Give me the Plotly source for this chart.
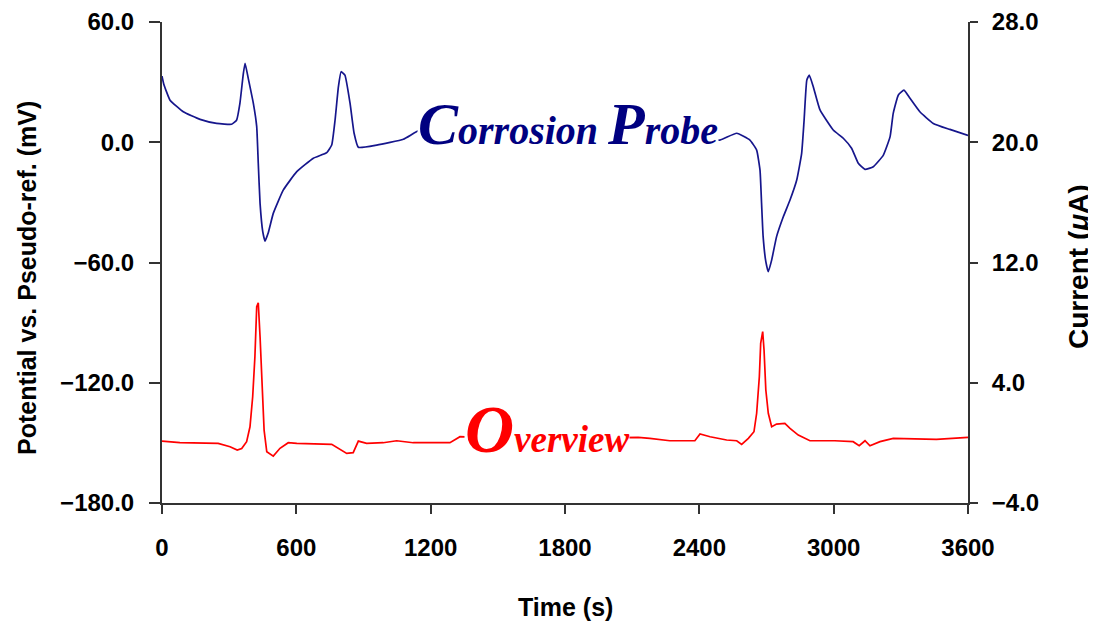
import plotly.graph_objects as go

# Time axis ticks
time_ticks = [0, 600, 1200, 1800, 2400, 3000, 3600]
pot_ticks = [-180, -120, -60, 0, 60]
cur_ticks = [-4, 4, 12, 20, 28]

# Potential (mV) vs time (s) - Corrosion probe
pot_time = [0, 8, 36, 95, 170, 244, 311, 333, 348, 363, 371, 385, 408, 423, 430, 438, 450, 460,
            475, 497, 542, 602, 676, 736, 758, 773, 788, 800, 817, 840, 858, 877, 959, 1078,
            1152, 1300, 1500, 1800, 2100, 2300, 2420, 2492, 2567, 2626, 2656, 2671, 2678, 2685,
            2697, 2708, 2723, 2745, 2775, 2805, 2835, 2857, 2868, 2880, 2891, 2909, 2939, 2998,
            3043, 3080, 3110, 3140, 3177, 3222, 3252, 3266, 3289, 3314, 3341, 3385, 3445, 3519, 3600]
pot_mv = [33, 29, 21, 15.2, 11.4, 9.4, 9, 11, 19.4, 34, 39.4, 32, 19.4, 7.8, -10.5, -30.5, -44.6, -49.3,
          -45, -35.5, -23.8, -14.7, -8, -5.2, -1.4, 11.1, 27.7, 35.2, 33.5, 19.4, 4.5, -2.5, -1.4, 1.5,
          6.1, 7, 6, 5, 4, 2, 1.5, 1.1, 4.5, 1.1, -3.9, -13.9, -30.5, -47.1,
          -59.6, -64.6, -58.8, -47.1, -37.2, -28.8, -18.8, -5.5, 11.1, 31, 33.5, 27.7, 16.1, 6.1,
          2, -3, -10.5, -13.5, -12.2, -6.4, 2.8, 14.4, 23.6, 26, 21.9, 15.2, 9.4, 6.4, 3.4]

# Current (uA) vs time (s) - Overview
cur_time = [0, 80, 251, 304, 336, 356, 378, 393, 405, 415, 423, 430, 438, 445, 456, 468, 497, 527,
            564, 602, 758, 825, 854, 877, 914, 988, 1048, 1122, 1286, 1331, 1500, 1800, 2000,
            2127, 2179, 2268, 2380, 2403, 2448, 2522, 2567, 2589, 2619, 2644, 2656, 2668, 2674,
            2683, 2689, 2697, 2708, 2723, 2745, 2782, 2805, 2842, 2894, 3005, 3087, 3114, 3140,
            3162, 3207, 3266, 3459, 3600]
cur_ua = [0.12, 0.01, -0.03, -0.26, -0.48, -0.37, 0.08, 1.07, 3.07, 5.73, 9.06, 9.32, 7.06, 4.18, 0.85, -0.59, -0.88, -0.36,
          0.01, -0.03, -0.1, -0.7, -0.65, 0.12, -0.03, 0.01, 0.14, 0.01, 0.01, 0.41, 0.3, 0.3, 0.35,
          0.37, 0.3, 0.14, 0.14, 0.59, 0.41, 0.19, 0.14, -0.1, 0.3, 0.74, 1.97, 4.4, 6.62,
          7.4, 6.18, 3.52, 1.97, 1.07, 1.25, 1.3, 0.97, 0.52, 0.14, 0.14, 0.08, -0.19, 0.14,
          -0.19, 0.08, 0.3, 0.23, 0.37]

label_probe = "<span style='font-size:60px'>C</span>orrosion <span style='font-size:60px'>P</span>robe"
label_overview = "<span style='font-size:68px'>O</span>verview"

tick_font = dict(family="Liberation Sans, Arial, sans-serif", size=24, color="black", weight="bold")
title_font = dict(family="Liberation Sans, Arial, sans-serif", size=25, color="black", weight="bold")
axis_col = "#333333"

# The page body has an 8 px margin, so the figure is drawn 8 px smaller
W, H = 1088, 614
L, R, T, B = 154, 128, 14, 119
PW, PH = W - L - R, H - T - B

fig = go.Figure()
fig.add_trace(go.Scatter(x=pot_time, y=pot_mv, mode="lines",
                         line=dict(color="#16168c", width=1.7, shape="spline", smoothing=0.4),
                         name="Potential", yaxis="y", showlegend=False))
fig.add_trace(go.Scatter(x=cur_time, y=cur_ua, mode="lines",
                         line=dict(color="#ff0000", width=1.7),
                         name="Current", yaxis="y2", showlegend=False))

fig.update_layout(
    width=W, height=H,
    margin=dict(l=L, r=R, t=T, b=B, autoexpand=False),
    paper_bgcolor="white", plot_bgcolor="white",
    xaxis=dict(range=[0, 3600], tickvals=time_ticks, ticks="outside", ticklen=9, tickwidth=2,
               tickcolor=axis_col, showline=True, linecolor=axis_col, linewidth=2, automargin=False,
               showgrid=False, zeroline=False, tickfont=tick_font, ticklabelstandoff=13),
    yaxis=dict(range=[-180, 60], tickvals=pot_ticks, tickformat=".1f", ticks="outside", ticklen=11,
               tickwidth=2, tickcolor=axis_col, showline=True, linecolor=axis_col, linewidth=2,
               automargin=False, showgrid=False, zeroline=False, tickfont=tick_font,
               ticklabelstandoff=10),
    yaxis2=dict(range=[-4, 28], tickvals=cur_ticks, tickformat=".1f", overlaying="y", side="right",
                ticks="outside", ticklen=8, tickwidth=2, tickcolor=axis_col, showline=True,
                linecolor=axis_col, linewidth=2, automargin=False, showgrid=False, zeroline=False,
                tickfont=tick_font, ticklabelstandoff=9),
    xaxis3=dict(range=[0, 3600], tickvals=time_ticks, overlaying="x", ticks="inside", ticklen=4,
                tickwidth=2, tickcolor=axis_col, showticklabels=False, showline=False,
                automargin=False, showgrid=False, zeroline=False),
    yaxis3=dict(range=[-180, 60], tickvals=pot_ticks, overlaying="y", ticks="inside", ticklen=6,
                tickwidth=2, tickcolor=axis_col, showticklabels=False, showline=False,
                automargin=False, showgrid=False, zeroline=False),
    yaxis4=dict(range=[-4, 28], tickvals=cur_ticks, overlaying="y", side="right", ticks="inside",
                ticklen=8, tickwidth=2, tickcolor=axis_col, showticklabels=False, showline=False,
                automargin=False, showgrid=False, zeroline=False),
    annotations=[
        dict(text="Time (s)", xref="paper", yref="paper", x=0.5, y=(PH - (607 - 8 - T)) / PH,
             showarrow=False, font=title_font, xanchor="center", yanchor="middle"),
        dict(text="Potential vs. Pseudo-ref. (mV)", xref="paper", yref="paper",
             x=(27 - 8 - L) / PW, y=(PH - (278 - 8 - T)) / PH, showarrow=False, textangle=-90,
             font=title_font, xanchor="center", yanchor="middle"),
        dict(text="Current (<i>μ</i>A)", xref="paper", yref="paper",
             x=(1078 - 8 - L) / PW, y=(PH - (267 - 8 - T)) / PH, showarrow=False, textangle=-90,
             font=dict(family="Liberation Sans, Arial, sans-serif", size=28, color="black",
                       weight="bold"),
             xanchor="center", yanchor="middle"),
        dict(text=label_probe, xref="x", yref="y", x=1815, y=9, showarrow=False,
             font=dict(family="Liberation Serif, serif", size=40, color="#000080",
                       style="italic", weight="bold"),
             bgcolor="white", borderpad=0, xanchor="center", yanchor="middle"),
        dict(text=label_overview, xref="x", yref="y", x=1720, y=-143, showarrow=False,
             font=dict(family="Liberation Serif, serif", size=37, color="#ff0000",
                       style="italic", weight="bold"),
             bgcolor="white", borderpad=0, xanchor="center", yanchor="middle"),
    ],
)

fig.write_html("out.html")
